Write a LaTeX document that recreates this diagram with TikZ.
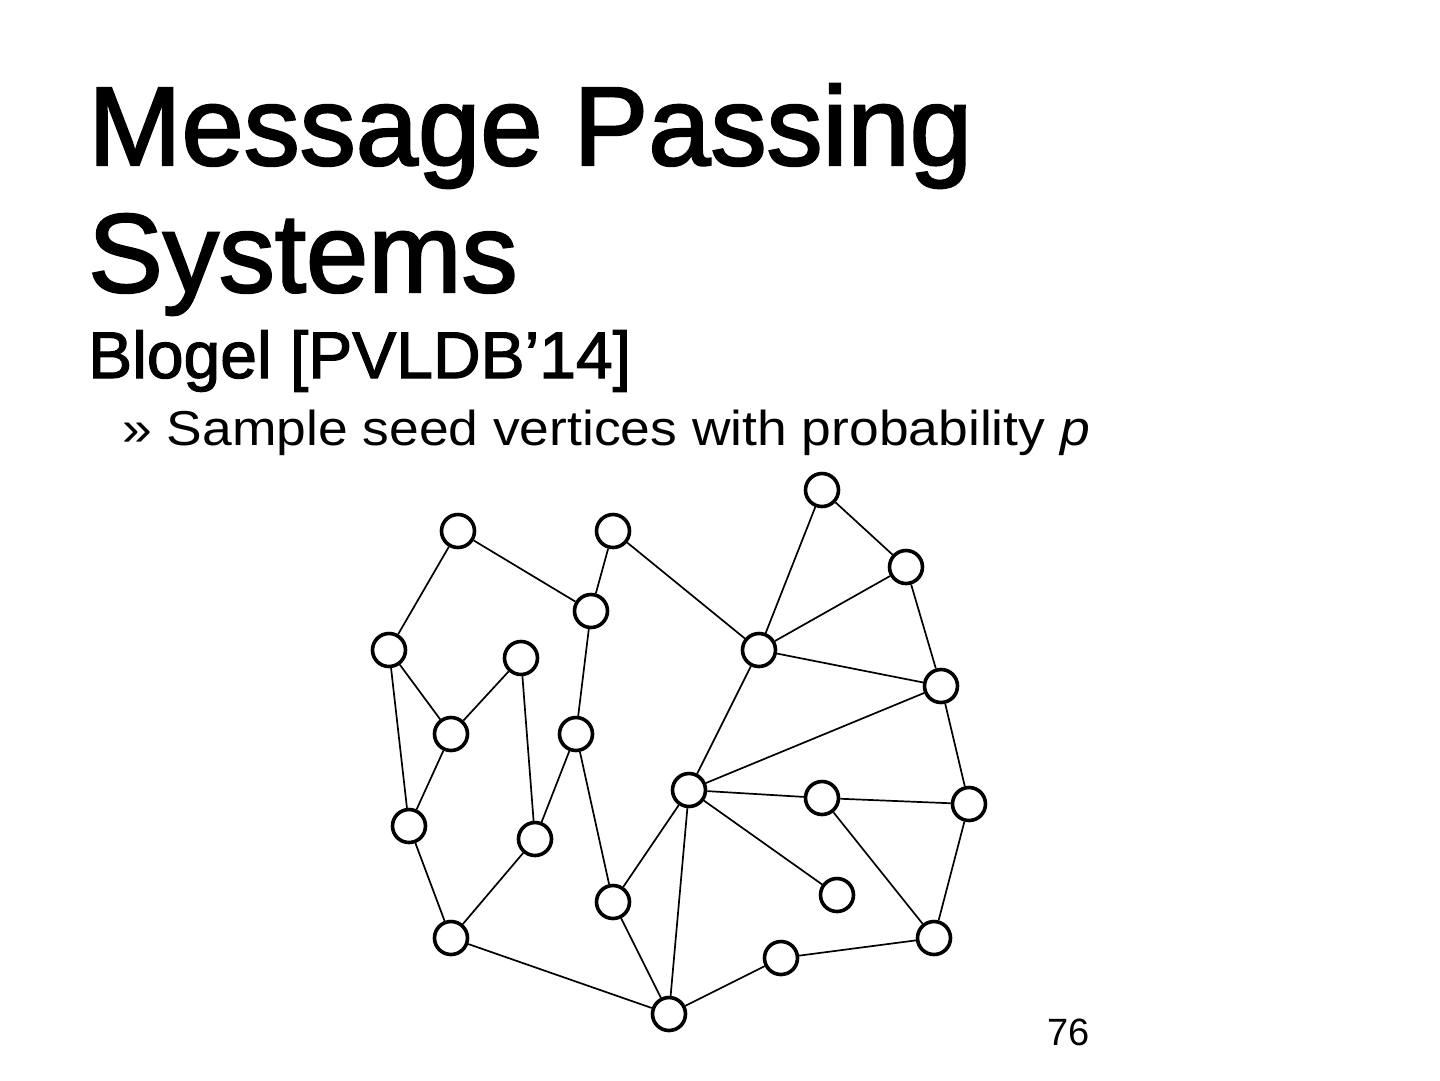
\documentclass[tikz,border=0pt]{standalone}
\usepackage{fontspec}
\setmainfont{Liberation Sans}
\newfontfamily\titlefont[FakeBold=2]{Liberation Sans}
\newfontfamily\subfont[FakeBold=1.8]{Liberation Sans}
\newfontfamily\bodyfont[FakeStretch=1.09]{Liberation Sans}
\usetikzlibrary{positioning}

\begin{document}
\begin{tikzpicture}[
    x=1pt,y=-1pt,
    vtx/.style={circle,draw,line width=3.6pt,minimum size=33pt,inner sep=0pt},
    edge/.style={line width=1.7pt},
    headline/.style={anchor=base west,inner sep=0pt,font=\titlefont\fontsize{112}{112}\selectfont},
    subhead/.style={anchor=base west,inner sep=0pt,font=\subfont\fontsize{66}{66}\selectfont},
    bullet/.style={anchor=base west,inner sep=0pt,font=\bodyfont\fontsize{49}{49}\selectfont}
  ]
    \useasboundingbox (0,0) rectangle (1440,1080);
    % title and text
    \node[headline] (T1) at (88,165) {Message Passing};
    \node[headline] (T2) at (88,292) {Systems};
    \node[subhead] (T3) at (88,378) {Blogel [PVLDB’14]};
    \node[bullet] (T4) at (122,445) {» Sample seed vertices with probability \textit{p}};
    \node[anchor=base east,inner sep=0pt,font=\fontsize{38}{38}\selectfont] (num) at (1090,1045) {76};
    % vertices
    \node[vtx] (A) at (458,531) {};
    \node[vtx] (B) at (613,531) {};
    \node[vtx] (C) at (591,611) {};
    \node[vtx] (D) at (822,490) {};
    \node[vtx] (E) at (906,567) {};
    \node[vtx] (F) at (759,650) {};
    \node[vtx] (G) at (389,650) {};
    \node[vtx] (H) at (521,658) {};
    \node[vtx] (I) at (451,734) {};
    \node[vtx] (J) at (576,734) {};
    \node[vtx] (K) at (941,686) {};
    \node[vtx] (L) at (689,790) {};
    \node[vtx] (M) at (822,798) {};
    \node[vtx] (N) at (969,804) {};
    \node[vtx] (O) at (409,826) {};
    \node[vtx] (P) at (535,839) {};
    \node[vtx] (Q) at (613,902) {};
    \node[vtx] (R) at (837,895) {};
    \node[vtx] (S) at (451,938) {};
    \node[vtx] (Tn) at (781,958) {};
    \node[vtx] (U) at (934,938) {};
    \node[vtx] (V) at (669,1014) {};
    % edges
    \draw[edge] (A) -- (G) (A) -- (C) (B) -- (C) (B) -- (F) (C) -- (J);
    \draw[edge] (D) -- (F) (D) -- (E) (E) -- (F) (E) -- (K) (F) -- (K) (F) -- (L);
    \draw[edge] (G) -- (I) (G) -- (O) (H) -- (I) (H) -- (P) (I) -- (O);
    \draw[edge] (J) -- (P) (J) -- (Q) (K) -- (L) (K) -- (N);
    \draw[edge] (L) -- (M) (L) -- (R) (L) -- (Q) (L) -- (V);
    \draw[edge] (M) -- (N) (M) -- (U) (N) -- (U);
    \draw[edge] (O) -- (S) (P) -- (S) (S) -- (V) (Q) -- (V) (V) -- (Tn) (Tn) -- (U);
\end{tikzpicture}
\end{document}
